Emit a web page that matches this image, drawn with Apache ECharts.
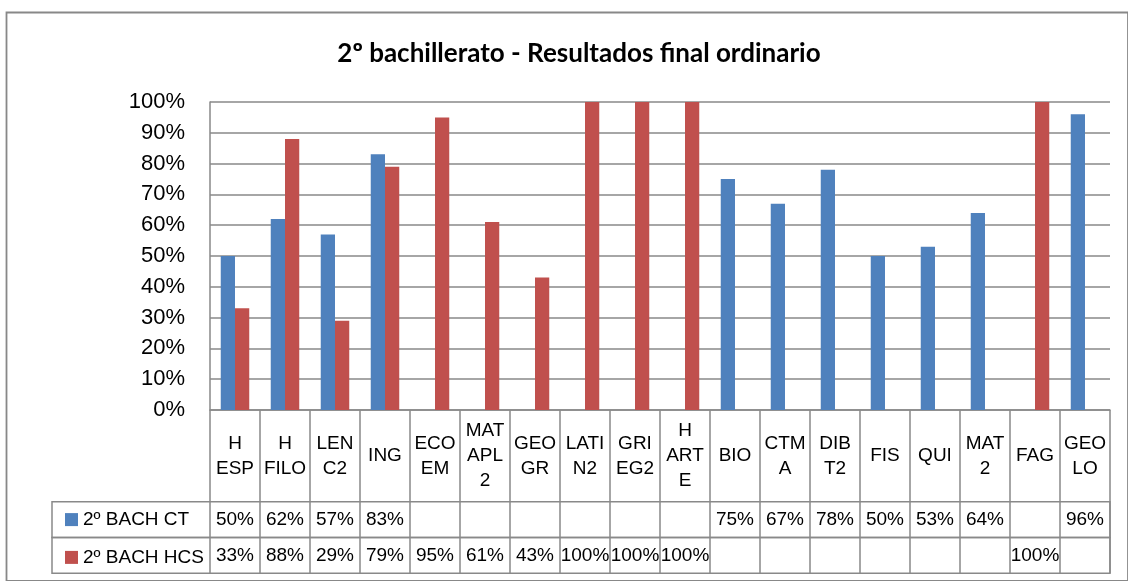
<!DOCTYPE html>
<html>
<head>
<meta charset="utf-8">
<script src="https://cdn.jsdelivr.net/npm/echarts@6/dist/echarts.min.js"></script>
<style>
html,body{margin:0;padding:0;background:#fff;}
#chart{width:1128px;height:581px;}
</style>
</head>
<body>
<div id="chart"></div>
<script>
const titleText = '2º bachillerato - Resultados final ordinario';
const categories = ['H\nESP','H\nFILO','LEN\nC2','ING','ECO\nEM','MAT\nAPL\n2','GEO\nGR','LATI\nN2','GRI\nEG2','H\nART\nE','BIO','CTM\nA','DIB\nT2','FIS','QUI','MAT\n2','FAG','GEO\nLO'];
const seriesNames = ['2º BACH CT','2º BACH HCS'];
const ctValues  = [50,62,57,83,null,null,null,null,null,null,75,67,78,50,53,64,null,96];
const hcsValues = [33,88,29,79,95,61,43,100,100,100,null,null,null,null,null,null,100,null];
const yTicks = [0,10,20,30,40,50,60,70,80,90,100];

const BLUE = '#4F81BD', RED = '#C0504D', GRID = '#898989';
const SANS = 'Liberation Sans, Arial, sans-serif';
const PL = 210, PR = 18, PT = 102, PB = 410;
const ROW1 = 501.7, ROW2 = 537.5, ROWH = 35.8;
const TFS = 19;
const fmt = v => (v == null ? '' : v + '%');

const chart = echarts.init(document.getElementById('chart'), null, {renderer:'canvas'});
chart.setOption({
  backgroundColor:'#fff',
  animation:false,
  title:{text:titleText,left:574,top:36,textAlign:'center',
    textStyle:{fontFamily:'Lato',fontWeight:'bold',fontSize:26,color:'#000'}},
  legend:{orient:'vertical',left:60,top:ROW1+ROWH/2-17,itemGap:ROWH-22,
    itemWidth:13,itemHeight:13,icon:'rect',data:seriesNames,
    textStyle:{fontFamily:SANS,fontSize:TFS,lineHeight:24,color:'#000'}},
  grid:[
    {left:PL,right:PR,top:PT,height:PB-PT,containLabel:false},
    {left:PL,right:PR,top:ROW1,height:ROWH},
    {left:PL,right:PR,top:ROW2,height:ROWH},
    {left:52,right:PR,top:ROW1,height:ROWH,show:true,borderColor:GRID,borderWidth:1.5,backgroundColor:'transparent'},
    {left:52,right:PR,top:ROW2,height:ROWH,show:true,borderColor:GRID,borderWidth:1.5,backgroundColor:'transparent'},
    {left:6.5,top:12.5,width:1300,height:700,show:true,borderColor:'#888',borderWidth:1.8,backgroundColor:'transparent'}
  ],
  xAxis:[
    {type:'category',gridIndex:0,data:categories,
      axisLine:{show:true,lineStyle:{color:GRID,width:1.5}},
      axisTick:{show:true,interval:0,length:ROW1-PB,lineStyle:{color:GRID,width:1.5}},
      axisLabel:{interval:0,margin:(ROW1-PB)/2,verticalAlign:'middle',fontFamily:SANS,fontSize:TFS,lineHeight:25,color:'#000'}},
    {type:'category',gridIndex:1,data:categories,
      axisLine:{show:false},
      axisTick:{show:true,inside:true,interval:0,length:ROWH,lineStyle:{color:GRID,width:1.5}},
      axisLabel:{interval:0,inside:true,margin:ROWH/2,verticalAlign:'middle',fontFamily:SANS,fontSize:TFS,color:'#000',
        formatter:(v,i)=>fmt(ctValues[i])}},
    {type:'category',gridIndex:2,data:categories,
      axisLine:{show:false},
      axisTick:{show:true,inside:true,interval:0,length:ROWH,lineStyle:{color:GRID,width:1.5}},
      axisLabel:{interval:0,inside:true,margin:ROWH/2,verticalAlign:'middle',fontFamily:SANS,fontSize:TFS,color:'#000',
        formatter:(v,i)=>fmt(hcsValues[i])}}
  ],
  yAxis:[
    {type:'value',gridIndex:0,min:0,max:100,interval:10,
      axisLine:{show:true,lineStyle:{color:GRID,width:1.5}},
      axisTick:{show:false},
      splitLine:{show:true,lineStyle:{color:GRID,width:1.5}},
      axisLabel:{margin:25,fontFamily:SANS,fontSize:22,color:'#000',
        formatter:v=>yTicks.includes(v)?v+'%':''}},
    {type:'value',gridIndex:1,show:false,splitLine:{show:false}},
    {type:'value',gridIndex:2,show:false,splitLine:{show:false}}
  ],
  series:[
    {name:seriesNames[0],type:'bar',xAxisIndex:0,yAxisIndex:0,data:ctValues,
      barGap:'0%',barCategoryGap:'43%',itemStyle:{color:BLUE}},
    {name:seriesNames[1],type:'bar',xAxisIndex:0,yAxisIndex:0,data:hcsValues,
      barGap:'0%',barCategoryGap:'43%',itemStyle:{color:RED}}
  ]
});
</script>
</body>
</html>
